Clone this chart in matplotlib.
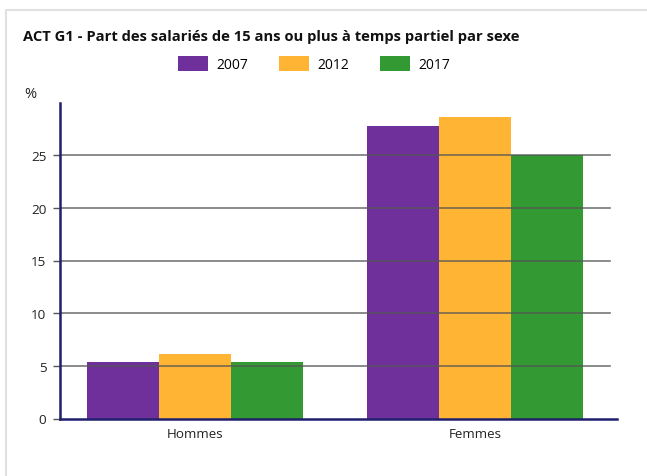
import matplotlib.pyplot as plt
import numpy as np
from matplotlib.patches import Rectangle

plt.rcParams['font.family'] = ['Open Sans', 'DejaVu Sans']

categories = ["Hommes", "Femmes"]
years = ["2007", "2012", "2017"]
values_2007 = [5.4, 27.8]
values_2012 = [6.1, 28.6]
values_2017 = [5.4, 25.0]
colors = ["#70309c", "#ffb533", "#339933"]

fig = plt.figure(figsize=(6.47, 4.77), dpi=100)
W, H = 647, 477

# card border (light gray, top and left)
fig.patches.append(Rectangle((6 / W, -0.1), 1.2, (H - 11) / H + 0.1, transform=fig.transFigure,
                             fill=False, edgecolor="#e0e0e0", linewidth=1.5))

ax = fig.add_axes([60 / W, (H - 419.5) / H, (617 - 60) / W, (419.5 - 103.5) / H])

x = np.arange(len(categories))
w = 0.256
series = [values_2007, values_2012, values_2017]
for i, vals in enumerate(series):
    ax.bar(x + (i - 1) * w, vals, width=w, color=colors[i], label=years[i], zorder=2)

ax.set_xlim(-0.482, 1.507)
ax.set_ylim(0, 30)
ax.set_yticks([0, 5, 10, 15, 20, 25])
ax.set_xticks(x)
ax.set_xticklabels(categories)

for yv in [5, 10, 15, 20, 25]:
    ax.plot([-0.482, 1.482], [yv, yv], color="#555555", linewidth=1.2, alpha=0.8, zorder=3)

for s in ["top", "right"]:
    ax.spines[s].set_visible(False)
ax.spines["bottom"].set_color("#1f1f6e")
ax.spines["bottom"].set_linewidth(1.8)
ax.spines["left"].set_color("#1f1f6e")
ax.spines["left"].set_linewidth(1.8)
ax.spines["left"].set_zorder(4)

ax.tick_params(axis="y", length=5.25, width=1.0, color="#555555", labelsize=9.7,
               labelcolor="#222222", pad=4.5)
ax.tick_params(axis="x", length=0, labelsize=9.6, labelcolor="#222222", pad=6)

fig.text(23 / W, 1 - 37 / H, "ACT G1 - Part des salariés de 15 ans ou plus à temps partiel par sexe",
         fontsize=10.6, fontweight="bold", color="#111111", va="center", ha="left")
fig.text(24 / W, 1 - 94 / H, "%", fontsize=10.5, color="#222222", va="center", ha="left")

ax.legend(loc="center", bbox_to_anchor=(314 / W, 1 - 65 / H), bbox_transform=fig.transFigure,
          ncol=3, frameon=False, fontsize=10, handlelength=2.16, handleheight=1.3,
          columnspacing=2.23, handletextpad=0.58, borderpad=0)

fig.savefig("out.png", dpi=100)
